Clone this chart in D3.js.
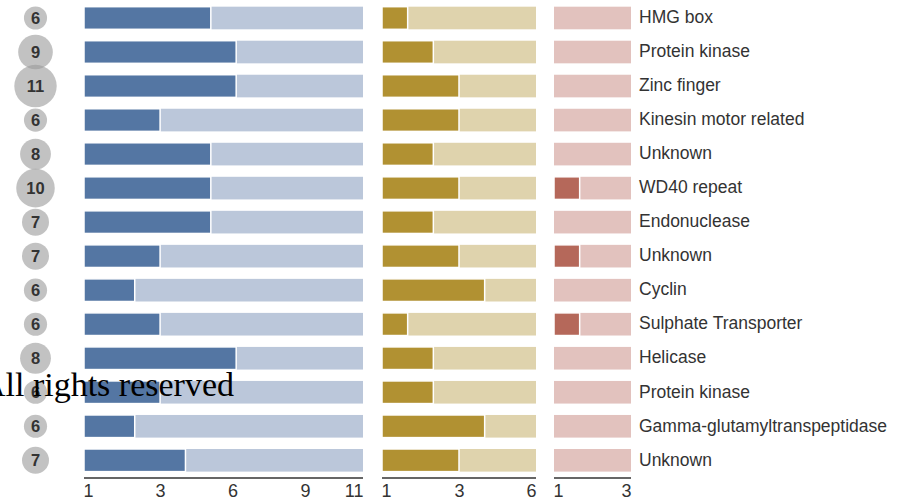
<!DOCTYPE html>
<html>
<head>
<meta charset="utf-8">
<script src="https://cdn.jsdelivr.net/npm/d3@7"></script>
<style>
  html, body { margin: 0; padding: 0; background: #fff; }
  svg { display: block; }
</style>
</head>
<body>
<svg id="chart" width="900" height="500"></svg>
<script>
// ---- data ----
const names = ["HMG box", "Protein kinase", "Zinc finger", "Kinesin motor related", "Unknown",
  "WD40 repeat", "Endonuclease", "Unknown", "Cyclin", "Sulphate Transporter", "Helicase",
  "Protein kinase", "Gamma-glutamyltranspeptidase", "Unknown"];
const counts  = [6, 9, 11, 6, 8, 10, 7, 7, 6, 6, 8, 6, 6, 7];
const series1 = [5, 6, 6, 3, 5, 5, 5, 3, 2, 3, 6, 3, 2, 4];
const series2 = [1, 2, 3, 3, 2, 3, 2, 3, 4, 1, 2, 2, 4, 3];
const series3 = [0, 0, 0, 0, 0, 1, 0, 1, 0, 1, 0, 0, 0, 0];
const max1 = 11, max2 = 6, max3 = 3;
const ticks1 = [1, 3, 6, 9, 11];
const ticks2 = [1, 3, 6];
const ticks3 = [1, 3];

// ---- layout ----
const svg = d3.select("#chart");
const axisY = 478;
const y = d3.scaleBand().domain(d3.range(names.length))
  .range([1, 477.3]).paddingInner(0.335).paddingOuter(0.167);

const panels = [
  { values: series1, max: max1, ticks: ticks1, range: [84, 363], tickRange: [87.5, 353.3], dark: "#5476a3", light: "#bbc7da" },
  { values: series2, max: max2, ticks: ticks2, range: [382, 536], tickRange: null, dark: "#b19132", light: "#dfd3ad" },
  { values: series3, max: max3, ticks: ticks3, range: [554, 631], tickRange: null, dark: "#b5685a", light: "#e2c2be" }
];

panels.forEach(p => {
  const x = d3.scaleLinear().domain([0, p.max]).range(p.range);
  const g = svg.append("g");
  g.selectAll("rect.bg").data(p.values).join("rect")
    .attr("class", "bg")
    .attr("x", x(0)).attr("y", (d, i) => y(i))
    .attr("width", x(p.max) - x(0)).attr("height", y.bandwidth())
    .attr("fill", p.light);
  g.selectAll("rect.fg").data(p.values.map((v, i) => ({ v, i })).filter(d => d.v > 0)).join("rect")
    .attr("class", "fg")
    .attr("x", x(0)).attr("y", d => y(d.i))
    .attr("width", d => x(d.v) - x(0)).attr("height", y.bandwidth())
    .attr("fill", p.dark).attr("stroke", "#fff").attr("stroke-width", 1.5);

  // axis
  const tx = p.tickRange ? x.copy().range(p.tickRange) : x;
  const axis = d3.axisBottom(tx).tickValues(p.ticks).tickSize(0).tickPadding(0).tickFormat(d3.format("d"));
  const ag = svg.append("g").attr("transform", `translate(0,${axisY})`).call(axis);
  ag.select(".domain").remove();
  ag.append("line").attr("x1", x(0)).attr("x2", x(p.max)).attr("y1", 0).attr("y2", 0)
    .attr("stroke", "#333").attr("stroke-width", 1.5);
  ag.selectAll(".tick text")
    .attr("font-family", "Liberation Sans, Arial, sans-serif")
    .attr("font-size", 18).attr("fill", "#333").attr("y", 19).attr("dy", 0)
    .each(function (d, i, nodes) {
      const t = d3.select(this);
      if (i === 0) {
        t.attr("text-anchor", "start").attr("x", x(0) - tx(d) - 1);
      } else if (i === nodes.length - 1) {
        t.attr("text-anchor", "end").attr("x", x(p.max) - tx(d));
      }
    });
});

// circles with counts
const r = d3.scaleLinear().domain([0, 11]).range([0, 21.2]);
const cg = svg.append("g");
cg.selectAll("circle").data(counts).join("circle")
  .attr("cx", 35.5).attr("cy", (d, i) => y(i) + y.bandwidth() / 2)
  .attr("r", d => r(d)).attr("fill", "#999").attr("fill-opacity", 0.6);
cg.selectAll("text").data(counts).join("text")
  .attr("x", 35.5).attr("y", (d, i) => y(i) + y.bandwidth() / 2)
  .attr("dy", "0.36em").attr("text-anchor", "middle")
  .attr("font-family", "Liberation Sans, Arial, sans-serif")
  .attr("font-weight", "bold").attr("font-size", 16.5).attr("fill", "#333")
  .text(d => d);

// row labels
svg.append("g").selectAll("text").data(names).join("text")
  .attr("x", 639).attr("y", (d, i) => y(i) + y.bandwidth() / 2)
  .attr("dy", "0.3em")
  .attr("font-family", "Liberation Sans, Arial, sans-serif")
  .attr("font-size", 17.5).attr("fill", "#333")
  .text(d => d);

// watermark
svg.append("text").attr("x", 234).attr("y", 395.5).attr("text-anchor", "end")
  .attr("font-family", "Liberation Serif, Times New Roman, serif")
  .attr("font-size", 34).attr("fill", "#000")
  .text("All rights reserved");
</script>
</body>
</html>
